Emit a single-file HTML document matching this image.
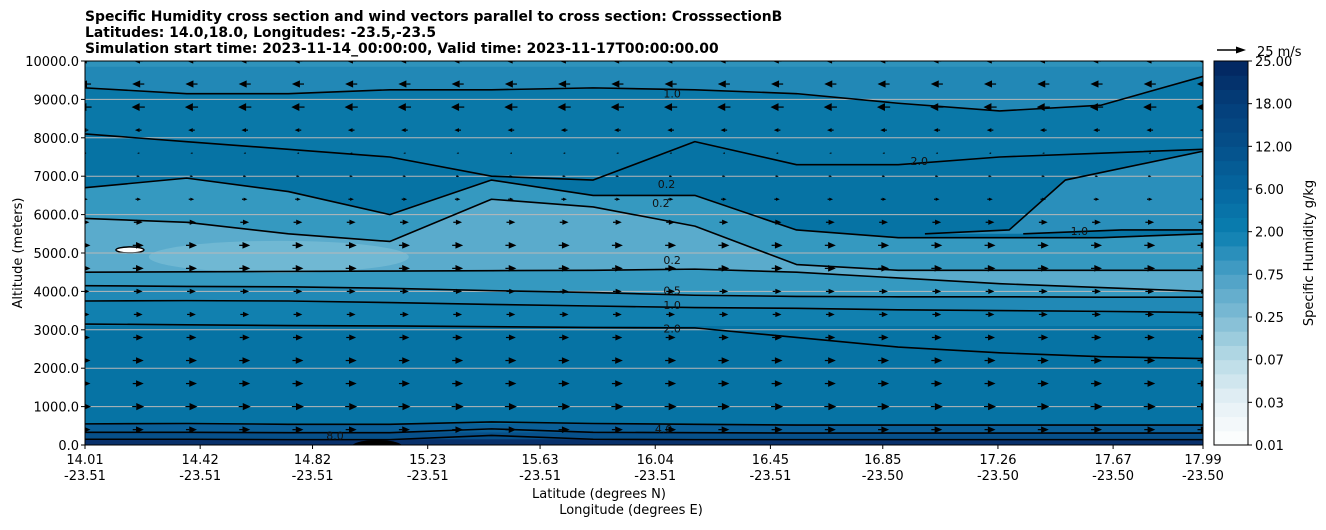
<!DOCTYPE html>
<html><head><meta charset="utf-8"><style>
body{margin:0;background:#fff;width:1326px;height:526px;overflow:hidden;font-family:"DejaVu Sans",sans-serif}
svg text{font-family:"DejaVu Sans",sans-serif}
</style></head><body>
<svg id="c" width="1326" height="526">
<defs><clipPath id="pc"><rect x="85" y="61" width="1118" height="384"/></clipPath></defs>
<text x="85" y="21" font-size="13.9" font-weight="bold">Specific Humidity cross section and wind vectors parallel to cross section: CrosssectionB</text>
<text x="85" y="37" font-size="13.9" font-weight="bold">Latitudes: 14.0,18.0, Longitudes: -23.5,-23.5</text>
<text x="85" y="53" font-size="13.9" font-weight="bold">Simulation start time: 2023-11-14_00:00:00, Valid time: 2023-11-17T00:00:00.00</text>
<g id="plot" clip-path="url(#pc)"></g>
<g id="axes"></g>
<g id="cbar"></g>
</svg>
<script>
const latTicks=[14.01,14.42,14.82,15.23,15.63,16.04,16.45,16.85,17.26,17.67,17.99];
const lonTicks=["-23.51","-23.51","-23.51","-23.51","-23.51","-23.51","-23.51","-23.50","-23.50","-23.50","-23.50"];
const altTicks=[0,1000,2000,3000,4000,5000,6000,7000,8000,9000,10000];
const sampleLats=[14.01,14.372,14.734,15.095,15.457,15.819,16.181,16.543,16.905,17.266,17.628,17.99];
const lineTop10=[9300,9150,9150,9250,9250,9300,9250,9150,8900,8700,8850,9600];
const lineWa=[8100,7900,7700,7500,7000,6900,7900,7300,7300,7500,7600,7700];
const lineWb=[6700,6950,6600,6000,6900,6500,6500,5600,5400,5400,5400,5500];
const lineWc=[5900,5800,5500,5300,6400,6200,5700,4700,4550,4550,4550,4550];
const line02=[4500,4510,4520,4530,4540,4550,4580,4500,4350,4200,4100,4000];
const line05=[4150,4130,4120,4080,4020,3970,3900,3870,3860,3860,3850,3850];
const line10=[3750,3760,3750,3710,3660,3620,3580,3560,3520,3500,3480,3450];
const line20=[3150,3130,3110,3100,3080,3060,3050,2800,2550,2400,2300,2250];
const line40=[550,560,540,540,600,560,540,520,520,520,520,520];
const line80=[330,330,320,320,420,330,320,310,310,310,310,310];
const line16=[150,150,140,140,250,150,140,140,140,140,140,140];
const patchLats=[17.0,17.3,17.5,17.99,17.99,17.7,17.35];
const patchAlts=[5500,5600,6900,7650,5600,5600,5500];
const rowAlts=[10000,9400,8800,8200,7600,7000,6400,5800,5200,4600,4000,3400,2800,2200,1600,1000,400];
const rowU=[-8,-11,-12,-6,-2,3,5,8,10,10,8,8,9,10,10,11,10];
const cbTicks=["0.01","0.03","0.07","0.25","0.75","2.00","6.00","12.00","18.00","25.00"];
const cbStops=["#ffffff","#e6f1f5","#b9dbe6","#7fbcd4","#4a9fc5","#0a7fb0","#0567a0","#05508a","#043e7a","#03255e"];

const X0=85,X1=1203,Y0=445,Y1=61;
const sx=l=>X0+(l-14.01)/(17.99-14.01)*(X1-X0);
const sy=a=>Y0-a/10000*(Y0-Y1);
const NS="http://www.w3.org/2000/svg";
function mk(t,attrs,parent){const e=document.createElementNS(NS,t);for(const k in attrs)e.setAttribute(k,attrs[k]);parent.appendChild(e);return e;}
const plot=document.getElementById('plot'),axes=document.getElementById('axes'),cbar=document.getElementById('cbar');
function pts(arr){return arr.map((a,i)=>sx(sampleLats[i])+","+sy(a)).join(" ");}
function band(lower,upper,color,name){
  const lo=Array.isArray(lower)?lower:sampleLats.map(()=>lower);
  const up=Array.isArray(upper)?upper:sampleLats.map(()=>upper);
  const p=lo.map((a,i)=>sx(sampleLats[i])+","+sy(a)).concat(up.map((a,i)=>sx(sampleLats[i])+","+sy(a)).reverse()).join(" ");
  const e=mk('polygon',{points:p,fill:color},plot);
  
  
}
mk('rect',{x:X0,y:Y1,width:X1-X0,height:Y0-Y1,fill:'#0673a4'},plot);
band(3100,3800,'#1180af','band-1-2');
band(line10,line05,'#2189b6','band-05-1');
band(line05,lineWb,'#3599c0','band-02-05');
band(line02,lineWc,'#5aabcc','band-01-02');
band(lineWa,lineTop10,'#0a78a8','band-upper-2');
band(lineTop10,10000,'#2288b6','band-upper-1');
band(9850,10000,'#2f93bc','band-top-05');
{const e=mk('polygon',{points:patchLats.map((l,i)=>sx(l)+","+sy(patchAlts[i])).join(" "),fill:'#2a8fbb'},plot);
}
{const e=mk('ellipse',{cx:sx(14.7),cy:sy(4900),rx:130,ry:16,fill:'#70b8d3'},plot);
}
band(0,550,'#0a5f98','band-4-8');
band(0,330,'#07508a','band-8-12');
band(0,150,'#08306b','band-16');
{const e=mk('ellipse',{cx:sx(15.05),cy:Y0+2,rx:26,ry:7,fill:'#000'},plot);
}
{const e=mk('ellipse',{cx:sx(14.17),cy:sy(5080),rx:14,ry:3,fill:'#fff',stroke:'#000','stroke-width':1.5},plot);
}
altTicks.forEach(a=>{if(a>0&&a<10000){const e=mk('line',{x1:X0,x2:X1,y1:sy(a),y2:sy(a),stroke:'#b8b8b8','stroke-width':1},plot);
}});
[[lineTop10,'contour-1-upper'],[lineWa,'contour-2-upper'],[lineWb,'contour-05-upper'],[lineWc,'contour-02-upper'],[line02,'contour-02-lower'],[line05,'contour-05'],[line10,'contour-1'],[line20,'contour-2'],[line40,'contour-4'],[line80,'contour-8'],[line16,'contour-16']].forEach(([arr,n])=>{
  const e=mk('polyline',{points:pts(arr),fill:'none',stroke:'#000','stroke-width':1.6,'stroke-linejoin':'round'},plot);
  
});
{const e=mk('polyline',{points:patchLats.map((l,i)=>sx(l)+","+sy(patchAlts[i])).join(" "),fill:'none',stroke:'#000','stroke-width':1.6},plot);
}
[["1.0",16.1,9150],["0.2",16.1,4820],["0.5",16.1,4020],["1.0",16.1,3650],["2.0",16.1,3030],["4.0",16.07,420],["8.0",14.9,250],["1.0",17.55,5570],["2.0",16.98,7400],["0.2",16.08,6800],["0.2",16.06,6300]].forEach(([t,l,a])=>{
  const e=mk('text',{x:sx(l),y:sy(a)+4,'font-size':11,'text-anchor':'middle',fill:'#111'},plot);e.textContent=t;
  
});
rowAlts.forEach((a,r)=>{
  for(let k=0;k<=21;k++){
    const x=X0+k*(X1-X0)/21,y=sy(a),u=rowU[r],L=u*1.1;
    const g=mk('g',{},plot);
    
    
    const d=Math.sign(u),h=Math.min(8,Math.abs(L)*0.7),w=Math.min(4,Math.abs(L)*0.3);
    mk('line',{x1:x-L/2,y1:y,x2:x+L/2-d*h,y2:y,stroke:'#000','stroke-width':1.2},g);
    mk('polygon',{points:`${x+L/2},${y} ${x+L/2-d*h},${y-w} ${x+L/2-d*h},${y+w}`,fill:'#000'},g);
  }
});
mk('rect',{x:X0,y:Y1,width:X1-X0,height:Y0-Y1,fill:'none',stroke:'#000','stroke-width':1},axes);
altTicks.forEach(a=>{
  mk('line',{x1:X0-4,x2:X0,y1:sy(a),y2:sy(a),stroke:'#000'},axes);
  const t=mk('text',{x:X0-6,y:sy(a)+5,'font-size':13,'text-anchor':'end'},axes);t.textContent=a.toFixed(1);
  
});
latTicks.forEach((l,i)=>{
  mk('line',{x1:sx(l),x2:sx(l),y1:Y0,y2:Y0+4,stroke:'#000'},axes);
  const t=mk('text',{x:sx(l),y:Y0+19,'font-size':13,'text-anchor':'middle'},axes);t.textContent=l.toFixed(2);
  
  const t2=mk('text',{x:sx(l),y:Y0+35,'font-size':13,'text-anchor':'middle'},axes);t2.textContent=lonTicks[i];
  
});
{let t=mk('text',{x:599,y:498,'font-size':13,'text-anchor':'middle'},axes);t.textContent='Latitude (degrees N)';
t=mk('text',{x:631,y:514,'font-size':13,'text-anchor':'middle'},axes);t.textContent='Longitude (degrees E)';
t=mk('text',{x:0,y:0,'font-size':13,'text-anchor':'middle',transform:'translate(22,253) rotate(-90)'},axes);t.textContent='Altitude (meters)';}
const CX=1214,CW=34,nb=27,bh=(Y0-Y1)/nb;
function hx(c){return [1,3,5].map(i=>parseInt(c.substr(i,2),16));}
for(let b=0;b<nb;b++){
  const f=(b+0.5)/3,i=Math.min(8,Math.floor(f)),t=f-i,c0=hx(cbStops[i]),c1=hx(cbStops[i+1]);
  const c=c0.map((v,j)=>Math.round(v+(c1[j]-v)*t));
  const e=mk('rect',{x:CX,y:Y0-(b+1)*bh,width:CW,height:bh+0.5,fill:`rgb(${c})`},cbar);
  
}
mk('rect',{x:CX,y:Y1,width:CW,height:Y0-Y1,fill:'none',stroke:'#000'},cbar);
cbTicks.forEach((s,i)=>{
  const y=Y0-i*(Y0-Y1)/9;
  mk('line',{x1:CX+CW,x2:CX+CW+4,y1:y,y2:y,stroke:'#000'},cbar);
  const t=mk('text',{x:CX+CW+7,y:y+5,'font-size':13},cbar);t.textContent=s;
  
});
{const t=mk('text',{x:0,y:0,'font-size':13,'text-anchor':'middle',transform:'translate(1313,253) rotate(-90)'},cbar);t.textContent='Specific Humidity g/kg';

const g=mk('g',{},cbar);
mk('line',{x1:1217,y1:50,x2:1238,y2:50,stroke:'#000','stroke-width':1.5},g);
mk('polygon',{points:'1246,50 1236,46.5 1236,53.5',fill:'#000'},g);
const k=mk('text',{x:1257,y:56,'font-size':13},g);k.textContent='25 m/s';}
</script>
</body></html>
